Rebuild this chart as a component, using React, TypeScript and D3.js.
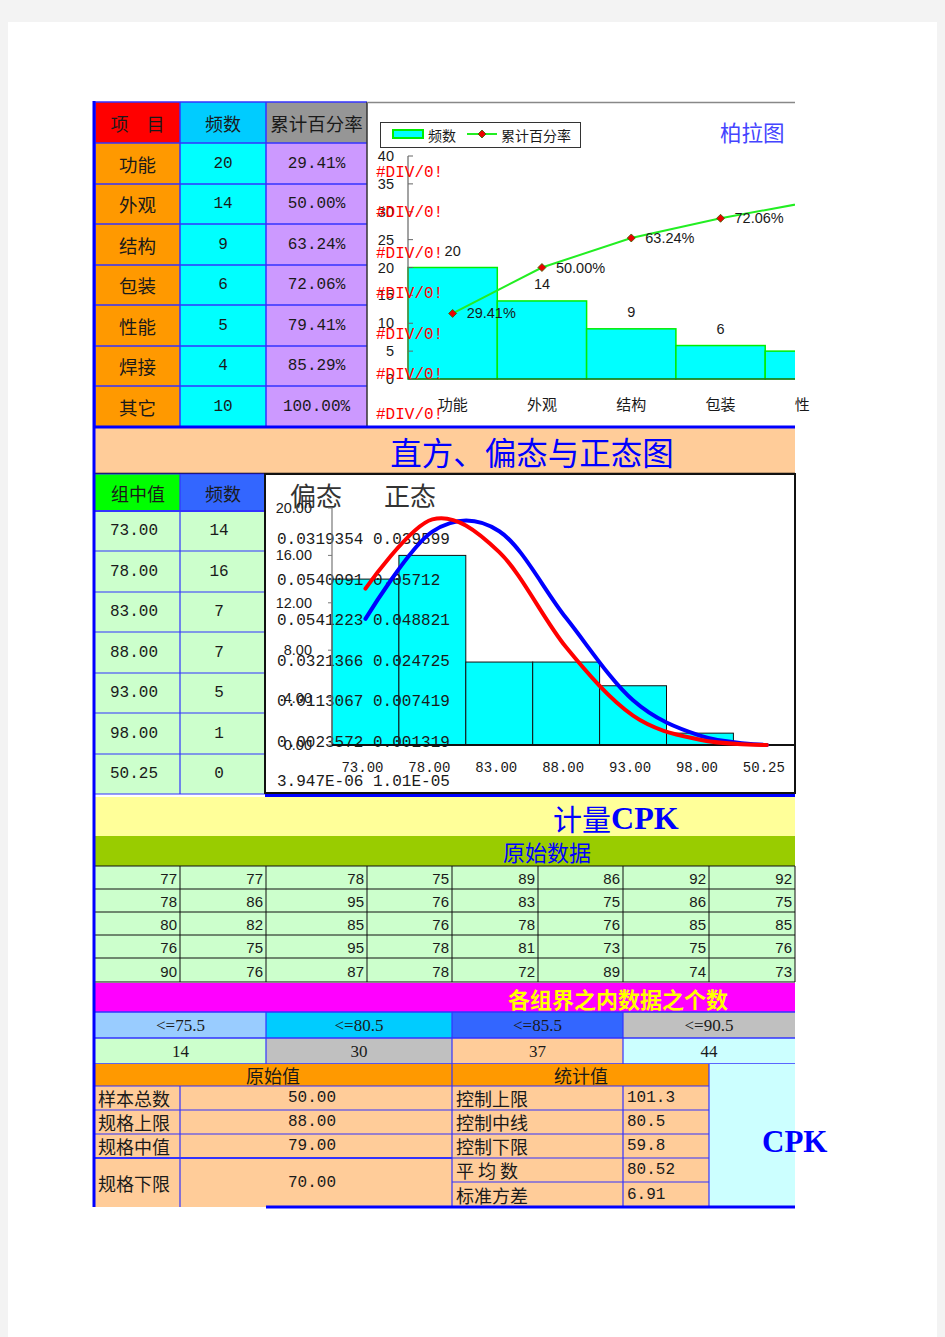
import React from "react";
import * as d3 from "d3";

// ---------- data ----------
const paretoCats = ["功能", "外观", "结构", "包装", "性能", "焊接", "其它"];
const paretoFreq = [20, 14, 9, 6, 5, 4, 10];
const paretoCum = [0.2941, 0.5, 0.6324, 0.7206, 0.7941, 0.8529, 1.0];
const paretoCumLabels = ["29.41%", "50.00%", "63.24%", "72.06%", "79.41%", "85.29%", "100.00%"];
const paretoTicks = [0, 5, 10, 15, 20, 25, 30, 35, 40];

const histMids = ["73.00", "78.00", "83.00", "88.00", "93.00", "98.00", "50.25"];
const histFreq = [14, 16, 7, 7, 5, 1, 0];
const skewVals = [0.0319354, 0.0540091, 0.0541223, 0.0321366, 0.0113067, 0.0023572, 3.947e-6];
const skewLabels = ["0.0319354", "0.0540091", "0.0541223", "0.0321366", "0.0113067", "0.0023572", "3.947E-06"];
const normVals = [0.039599, 0.05712, 0.048821, 0.024725, 0.007419, 0.001319, 1.01e-5];
const normLabels = ["0.039599", "0.05712", "0.048821", "0.024725", "0.007419", "0.001319", "1.01E-05"];
const histTicks = [0, 4, 8, 12, 16, 20];

const rawData = [
  [77, 77, 78, 75, 89, 86, 92, 92],
  [78, 86, 95, 76, 83, 75, 86, 75],
  [80, 82, 85, 76, 78, 76, 85, 85],
  [76, 75, 95, 78, 81, 73, 75, 76],
  [90, 76, 87, 78, 72, 89, 74, 73],
];
const groupLimits = ["<=75.5", "<=80.5", "<=85.5", "<=90.5"];
const groupCounts = [14, 30, 37, 44];
const rawLabels = ["样本总数", "规格上限", "规格中值", "规格下限"];
const rawValues = ["50.00", "88.00", "79.00", "70.00"];
const statLabels = ["控制上限", "控制中线", "控制下限", "平 均 数", "标准方差"];
const statValues = ["101.3", "80.5", "59.8", "80.52", "6.91"];

// ---------- styles ----------
const CJK = "'Noto Sans CJK SC', 'Noto Sans', sans-serif";
const MONO = "'Liberation Mono', 'DejaVu Sans Mono', monospace";
const SANS = "'Liberation Sans', Arial, sans-serif";
const SERIF = "'Liberation Serif', 'DejaVu Serif', serif";
const NARROW = "'Liberation Sans Narrow', 'Liberation Sans', sans-serif";
const BLUE = "#3333FF";
const TXT = "#1a1a1a";

const colA = [95, 180, 266, 367];
const rowA = [102, 143, 184, 224, 265, 305, 346, 386, 427];
const rowB = [474, 511, 551, 592, 632, 673, 713, 754, 794];
const gridCols = [95, 180, 266, 367, 452, 538, 623, 709, 795];
const gridRows = [866, 889, 912, 935, 958, 982];

export default function App() {
  // Pareto scales
  const px = d3.scaleBand<string>().domain(paretoCats).range([408, 408 + 89.3 * paretoCats.length]).padding(0);
  const py = d3.scaleLinear().domain([0, 40]).range([379, 156]);
  const py2 = d3.scaleLinear().domain([0, 1]).range([379, 156]);
  const pcx = (c: string) => (px(c) as number) + px.bandwidth() / 2;
  const paretoLine = d3.line<number>().x((_, i) => pcx(paretoCats[i])).y((d) => py2(d));

  // Histogram scales
  const hx = d3.scaleBand<string>().domain(histMids).range([332, 332 + 66.9 * histMids.length]).padding(0);
  const hy = d3.scaleLinear().domain([0, 20]).range([745, 508]);
  const hy2 = d3.scaleLinear().domain([0, 0.06]).range([745, 508]);
  const hcx = (c: string) => (hx(c) as number) + hx.bandwidth() / 2;
  const curve = d3.line<number>().x((_, i) => hcx(histMids[i])).y((d) => hy2(d)).curve(d3.curveCardinal.tension(0));

  const diamond = (x: number, y: number, r = 4) => `M${x},${y - r}L${x + r},${y}L${x},${y + r}L${x - r},${y}Z`;

  return (
    <svg width={945} height={1337} style={{ position: "absolute", left: 0, top: 0 }} xmlns="http://www.w3.org/2000/svg">
      <defs>
        <clipPath id="clipP"><rect x={367} y={100} width={428} height={330} /></clipPath>
        <clipPath id="clipPL"><rect x={367} y={380} width={443} height={45} /></clipPath>
        <clipPath id="clipH"><rect x={265} y={474} width={530} height={320} /></clipPath>
      </defs>
      <rect x={0} y={0} width={945} height={1337} fill="#F3F3F3" />
      <rect x={8} y={22} width={929} height={1315} fill="#FFFFFF" />

      {/* ---------- top table ---------- */}
      {["项　目", "频数", "累计百分率"].map((t, j) => (
        <g key={"h" + j}>
          <rect x={colA[j]} y={rowA[0]} width={colA[j + 1] - colA[j]} height={rowA[1] - rowA[0]} fill={["#FF0000", "#00CCFF", "#969696"][j]} />
          <text x={(colA[j] + colA[j + 1]) / 2} y={(rowA[0] + rowA[1]) / 2} textAnchor="middle" dominantBaseline="central" fontFamily={CJK} fontSize={j === 2 ? 18.5 : 18} fill={TXT}>{t}</text>
        </g>
      ))}
      {paretoCats.map((c, i) => {
        const y0 = rowA[i + 1], y1 = rowA[i + 2];
        const cells = [c, String(paretoFreq[i]), paretoCumLabels[i]];
        return (
          <g key={"r" + i}>
            {cells.map((t, j) => (
              <g key={j}>
                <rect x={colA[j]} y={y0} width={colA[j + 1] - colA[j]} height={y1 - y0} fill={["#FF9900", "#00FFFF", "#CC99FF"][j]} />
                <text x={(colA[j] + colA[j + 1]) / 2} y={(y0 + y1) / 2} textAnchor="middle" dominantBaseline="central" fontFamily={j === 0 ? CJK : MONO} fontSize={j === 0 ? 18.5 : 16} fill={TXT}>{t}</text>
              </g>
            ))}
          </g>
        );
      })}
      {rowA.map((y, i) => (
        <line key={"ra" + i} x1={95} x2={367} y1={y} y2={y} stroke={BLUE} strokeWidth={1.5} />
      ))}
      {colA.slice(0, 3).map((x, i) => (
        <line key={"ca" + i} x1={x} x2={x} y1={102} y2={427} stroke={BLUE} strokeWidth={1.5} />
      ))}
      <line x1={367} x2={367} y1={102} y2={427} stroke="#333" strokeWidth={1.5} />

      {/* ---------- pareto chart ---------- */}
      <rect x={368} y={102} width={427} height={324} fill="#FFFFFF" />
      <line x1={367} x2={795} y1={102.5} y2={102.5} stroke="#888" strokeWidth={1.5} />
      <g clipPath="url(#clipP)">
        {paretoCats.map((c, i) => (
          <rect key={"pb" + i} x={px(c)} y={py(paretoFreq[i])} width={px.bandwidth()} height={py(0) - py(paretoFreq[i])} fill="#00FFFF" stroke="#00EE00" strokeWidth={1.5} />
        ))}
        <line x1={408} x2={800} y1={379} y2={379} stroke="#333" strokeWidth={1.2} />
      </g>
      <line x1={408} x2={408} y1={156} y2={379} stroke="#666" strokeWidth={1.2} />
      {paretoTicks.map((t) => (
        <g key={"pt" + t}>
          <line x1={408} x2={413} y1={py(t)} y2={py(t)} stroke="#666" />
          <text x={394} y={py(t)} textAnchor="end" dominantBaseline="central" fontFamily={SANS} fontSize={14.5} fill={TXT}>{t}</text>
        </g>
      ))}
      {/* #DIV/0! overflow texts */}
      {d3.range(7).map((i) => (
        <text key={"dv" + i} x={376} y={173 + i * 40.4} dominantBaseline="central" fontFamily={MONO} fontSize={16} fill="#FF0000">#DIV/0!</text>
      ))}
      <g clipPath="url(#clipP)">
        {paretoCats.slice(0, 4).map((c, i) => (
          <text key={"pv" + i} x={pcx(c)} y={py(paretoFreq[i]) - 17} textAnchor="middle" dominantBaseline="central" fontFamily={SANS} fontSize={14.5} fill={TXT}>{paretoFreq[i]}</text>
        ))}
        <path d={paretoLine(paretoCum) || ""} fill="none" stroke="#22EE22" strokeWidth={2} />
        {paretoCum.map((v, i) => (
          <path key={"pm" + i} d={diamond(pcx(paretoCats[i]), py2(v))} fill="#EE0000" stroke="#336600" strokeWidth={0.8} />
        ))}
        {paretoCum.map((v, i) => (
          <text key={"pl" + i} x={pcx(paretoCats[i]) + 14} y={py2(v)} dominantBaseline="central" fontFamily={SANS} fontSize={14.5} fill={TXT}>{paretoCumLabels[i]}</text>
        ))}
      </g>
      <g clipPath="url(#clipPL)">
        {paretoCats.map((c) => (
          <text key={"pc" + c} x={pcx(c)} y={403} textAnchor="middle" dominantBaseline="central" fontFamily={CJK} fontSize={15} fill={TXT}>{c}</text>
        ))}
      </g>
      {/* legend */}
      <rect x={380.5} y={122.5} width={200} height={25} fill="#FFFFFF" stroke="#333" strokeWidth={1} />
      <rect x={393} y={130} width={30} height={8} fill="#00FFFF" stroke="#00EE00" strokeWidth={2} />
      <text x={428} y={135} dominantBaseline="central" fontFamily={CJK} fontSize={14} fill={TXT}>频数</text>
      <line x1={467} x2={497} y1={134} y2={134} stroke="#22EE22" strokeWidth={2} />
      <path d={diamond(482, 134)} fill="#EE0000" stroke="#336600" strokeWidth={0.8} />
      <text x={501} y={135} dominantBaseline="central" fontFamily={CJK} fontSize={14} fill={TXT}>累计百分率</text>
      <text x={720} y={131} dominantBaseline="central" fontFamily={CJK} fontSize={21.5} fill="#4444FF">柏拉图</text>

      {/* ---------- title band ---------- */}
      <rect x={95} y={428} width={700} height={45} fill="#FFCC99" />
      <line x1={93} x2={795} y1={427} y2={427} stroke="#0000FF" strokeWidth={3} />
      <line x1={95} x2={795} y1={473.5} y2={473.5} stroke="#000" strokeWidth={1.5} />
      <text x={532} y={451} textAnchor="middle" dominantBaseline="central" fontFamily={CJK} fontSize={31.5} fill="#0000FF">直方、偏态与正态图</text>

      {/* ---------- histogram table ---------- */}
      <rect x={95} y={rowB[0]} width={85} height={rowB[1] - rowB[0]} fill="#00FF00" />
      <rect x={180} y={rowB[0]} width={85} height={rowB[1] - rowB[0]} fill="#3366FF" />
      <text x={138} y={(rowB[0] + rowB[1]) / 2} textAnchor="middle" dominantBaseline="central" fontFamily={CJK} fontSize={18} fill={TXT}>组中值</text>
      <text x={223} y={(rowB[0] + rowB[1]) / 2} textAnchor="middle" dominantBaseline="central" fontFamily={CJK} fontSize={18} fill={TXT}>频数</text>
      {histMids.map((m, i) => (
        <g key={"hr" + i}>
          <rect x={95} y={rowB[i + 1]} width={170} height={rowB[i + 2] - rowB[i + 1]} fill="#CCFFCC" />
          <text x={134} y={(rowB[i + 1] + rowB[i + 2]) / 2} textAnchor="middle" dominantBaseline="central" fontFamily={MONO} fontSize={16} fill={TXT}>{m}</text>
          <text x={219} y={(rowB[i + 1] + rowB[i + 2]) / 2} textAnchor="middle" dominantBaseline="central" fontFamily={MONO} fontSize={16} fill={TXT}>{histFreq[i]}</text>
        </g>
      ))}
      {rowB.map((y, i) => (
        <line key={"rb" + i} x1={95} x2={265} y1={y} y2={y} stroke={BLUE} strokeWidth={i === 1 ? 2 : 1.2} />
      ))}
      <line x1={180} x2={180} y1={474} y2={794} stroke={BLUE} strokeWidth={1.2} />

      {/* ---------- histogram chart ---------- */}
      <rect x={265} y={474} width={530} height={319} fill="#FFFFFF" stroke="#111" strokeWidth={2} />
      <text x={290} y={494} dominantBaseline="central" fontFamily={CJK} fontSize={26} fill="#333">偏态</text>
      <text x={384} y={494} dominantBaseline="central" fontFamily={CJK} fontSize={26} fill="#333">正态</text>
      <g clipPath="url(#clipH)">
        {histMids.map((m, i) => (
          <rect key={"hb" + i} x={hx(m)} y={hy(histFreq[i])} width={hx.bandwidth()} height={hy(0) - hy(histFreq[i])} fill="#00FFFF" stroke="#111" strokeWidth={1} />
        ))}
      </g>
      {skewLabels.map((s, i) => (
        <text key={"ov" + i} x={277} y={540 + i * 40.5 - (i === 6 ? 1 : 0)} dominantBaseline="central" fontFamily={MONO} fontSize={16} fill={TXT} xmlSpace="preserve">{s + " " + normLabels[i]}</text>
      ))}
      <line x1={332} x2={332} y1={508} y2={745} stroke="#777" strokeWidth={1.2} />
      {histTicks.map((t) => (
        <g key={"ht" + t}>
          <line x1={328} x2={332} y1={hy(t)} y2={hy(t)} stroke="#777" />
          <text x={312} y={hy(t)} textAnchor="end" dominantBaseline="central" fontFamily={SANS} fontSize={14.5} fill={TXT}>{t.toFixed(2)}</text>
        </g>
      ))}
      <line x1={332} x2={795} y1={745} y2={745} stroke="#111" strokeWidth={2} />
      {histMids.map((m) => (
        <text key={"hl" + m} x={hcx(m) - 3} y={768} textAnchor="middle" dominantBaseline="central" fontFamily={MONO} fontSize={14} fill={TXT}>{m}</text>
      ))}
      <g clipPath="url(#clipH)">
        <path d={curve(skewVals) || ""} fill="none" stroke="#0000FF" strokeWidth={4} strokeLinecap="round" />
        <path d={curve(normVals) || ""} fill="none" stroke="#FF0000" strokeWidth={4} strokeLinecap="round" />
      </g>
      <line x1={265} x2={795} y1={795.5} y2={795.5} stroke="#0000FF" strokeWidth={3} />

      {/* ---------- CPK section ---------- */}
      <rect x={95} y={797} width={700} height={39} fill="#FFFF99" />
      <text x={553} y={818} dominantBaseline="central" fontFamily={CJK} fontSize={29} fill="#0000FF">计量<tspan fontFamily={SERIF} fontWeight="bold" fontSize={32}>CPK</tspan></text>
      <rect x={95} y={836} width={700} height={30} fill="#99CC00" />
      <text x={547} y={851} textAnchor="middle" dominantBaseline="central" fontFamily={CJK} fontSize={22} fill="#0000FF">原始数据</text>

      {rawData.map((row, r) => (
        <g key={"g" + r}>
          <rect x={95} y={gridRows[r]} width={700} height={gridRows[r + 1] - gridRows[r]} fill="#CCFFCC" />
          {row.map((v, c) => (
            <text key={c} x={gridCols[c + 1] - 3} y={(gridRows[r] + gridRows[r + 1]) / 2 + 1} textAnchor="end" dominantBaseline="central" fontFamily={NARROW} fontSize={15} fill={TXT}>{v}</text>
          ))}
        </g>
      ))}
      {gridRows.map((y, i) => (
        <line key={"gr" + i} x1={95} x2={795} y1={y} y2={y} stroke="#111" strokeWidth={1} />
      ))}
      {gridCols.slice(1).map((x, i) => (
        <line key={"gc" + i} x1={x} x2={x} y1={866} y2={982} stroke="#111" strokeWidth={1} />
      ))}

      <rect x={95} y={983} width={700} height={29} fill="#FF00FF" />
      <text x={618} y={998} textAnchor="middle" dominantBaseline="central" fontFamily={CJK} fontWeight="bold" fontSize={22} fill="#FFFF00">各组界之内数据之个数</text>

      {groupLimits.map((g, i) => {
        const xs = [95, 266, 452, 623, 795];
        return (
          <g key={"gl" + i}>
            <rect x={xs[i]} y={1012} width={xs[i + 1] - xs[i]} height={26} fill={["#99CCFF", "#00CCFF", "#3366FF", "#C0C0C0"][i]} />
            <text x={(xs[i] + xs[i + 1]) / 2} y={1025} textAnchor="middle" dominantBaseline="central" fontFamily={SERIF} fontSize={17} fill={TXT}>{g}</text>
            <rect x={xs[i]} y={1038} width={xs[i + 1] - xs[i]} height={26} fill={["#CCFFCC", "#C0C0C0", "#FFCC99", "#CCFFFF"][i]} />
            <text x={(xs[i] + xs[i + 1]) / 2} y={1051} textAnchor="middle" dominantBaseline="central" fontFamily={SERIF} fontSize={17} fill={TXT}>{groupCounts[i]}</text>
            {i > 0 && <line x1={xs[i]} x2={xs[i]} y1={1012} y2={1064} stroke={BLUE} strokeWidth={1.2} />}
          </g>
        );
      })}
      {[1012, 1038, 1064].map((y) => (
        <line key={"gy" + y} x1={95} x2={795} y1={y} y2={y} stroke={BLUE} strokeWidth={1.5} />
      ))}

      {/* ---------- stats table ---------- */}
      <rect x={95} y={1064} width={357} height={22} fill="#FF9900" />
      <rect x={452} y={1064} width={257} height={22} fill="#FF9900" />
      <rect x={709} y={1064} width={86} height={143} fill="#CCFFFF" />
      <text x={273} y={1075} textAnchor="middle" dominantBaseline="central" fontFamily={CJK} fontSize={18} fill={TXT}>原始值</text>
      <text x={581} y={1075} textAnchor="middle" dominantBaseline="central" fontFamily={CJK} fontSize={18} fill={TXT}>统计值</text>
      <rect x={95} y={1086} width={614} height={121} fill="#FFCC99" />
      {rawLabels.map((l, i) => {
        const ys = [1086, 1110, 1134, 1158, 1207];
        const cy = (ys[i] + ys[i + 1]) / 2;
        return (
          <g key={"rl" + i}>
            <text x={98} y={cy} dominantBaseline="central" fontFamily={CJK} fontSize={18} fill={TXT}>{l}</text>
            <text x={312} y={cy} textAnchor="middle" dominantBaseline="central" fontFamily={MONO} fontSize={16} fill={TXT}>{rawValues[i]}</text>
            <line x1={95} x2={452} y1={ys[i]} y2={ys[i]} stroke={BLUE} strokeWidth={i === 3 ? 2 : 1.2} />
          </g>
        );
      })}
      {statLabels.map((l, i) => {
        const ys = [1086, 1110, 1134, 1158, 1182, 1207];
        const cy = (ys[i] + ys[i + 1]) / 2;
        return (
          <g key={"sl" + i}>
            <text x={456} y={cy} dominantBaseline="central" fontFamily={CJK} fontSize={18} fill={TXT}>{l}</text>
            <text x={627} y={cy} dominantBaseline="central" fontFamily={MONO} fontSize={16} fill={TXT}>{statValues[i]}</text>
            <line x1={452} x2={709} y1={ys[i]} y2={ys[i]} stroke={BLUE} strokeWidth={1.2} />
          </g>
        );
      })}
      <line x1={180} x2={180} y1={1086} y2={1207} stroke={BLUE} strokeWidth={1.2} />
      <line x1={452} x2={452} y1={1064} y2={1207} stroke={BLUE} strokeWidth={1.2} />
      <line x1={623} x2={623} y1={1086} y2={1207} stroke={BLUE} strokeWidth={1.2} />
      <line x1={709} x2={709} y1={1064} y2={1207} stroke={BLUE} strokeWidth={1.2} />
      <line x1={266} x2={795} y1={1207} y2={1207} stroke="#0000FF" strokeWidth={3} />
      <text x={762} y={1141} dominantBaseline="central" fontFamily={SERIF} fontWeight="bold" fontSize={31} fill="#0000FF">CPK</text>

      {/* left border */}
      <line x1={94} x2={94} y1={101} y2={1207} stroke="#0000FF" strokeWidth={3} />
    </svg>
  );
}
